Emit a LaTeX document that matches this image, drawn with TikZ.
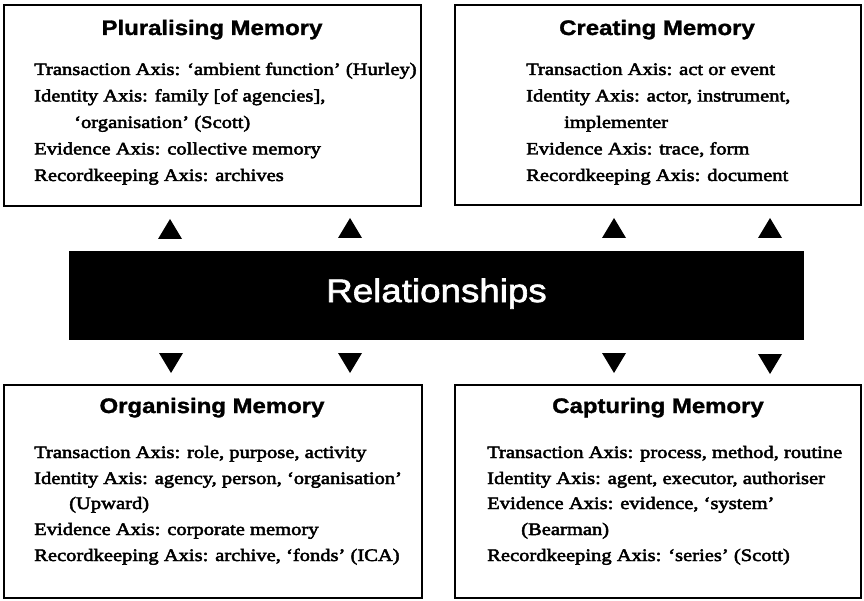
\documentclass[tikz,border=0pt]{standalone}
\usepackage{fontspec}
\newfontfamily\bodyfont{Liberation Serif}[FakeStretch=1.175,FakeBold=2.8]
\newfontfamily\titlefont{Liberation Sans}[FakeStretch=1.14,FakeBold=1.5]
\newfontfamily\barfont{Liberation Sans}[FakeStretch=1.13,FakeBold=2]
\tikzset{
  panel/.style={draw=black, line width=1.8pt, inner sep=0pt, anchor=north west},
  ttl/.style={font=\titlefont\bfseries\fontsize{21}{25}\selectfont, anchor=base, inner sep=0pt},
  ln/.style={font=\bodyfont\fontsize{17.5}{27}\selectfont, anchor=base west, inner sep=0pt},
  bar/.style={fill=black, inner sep=0pt, anchor=north west},
  bartext/.style={font=\barfont\fontsize{32.5}{36}\selectfont, text=white, anchor=base, inner sep=0pt},
  uptri/.pic={\fill[black] (-12,10) -- (12,10) -- (0,-10) -- cycle;},
  downtri/.pic={\fill[black] (-12,-10) -- (12,-10) -- (0,10) -- cycle;}
}
\begin{document}
\begin{tikzpicture}[x=1pt,y=-1pt]
\useasboundingbox (0,0) rectangle (864,601);
% panels
\node[panel, minimum width=417pt, minimum height=201pt] (plur) at (3,4) {};
\node[panel, minimum width=406pt, minimum height=200pt] (crea) at (454,4) {};
\node[panel, minimum width=418pt, minimum height=213pt] (orga) at (3,384) {};
\node[panel, minimum width=406pt, minimum height=213pt] (capt) at (454,384) {};
% central bar
\node[bar, minimum width=735pt, minimum height=89pt] (rel) at (69,251) {};
\node[bartext] (reltext) at (436.5,302) {Relationships};
% triangles
\pic at (170,229) {uptri};
\pic at (350,228) {uptri};
\pic at (614,228) {uptri};
\pic at (770,228) {uptri};
\pic at (171,363) {downtri};
\pic at (350,363) {downtri};
\pic at (614,363) {downtri};
\pic at (770,364) {downtri};
% Pluralising
\node[ttl] (plurT) at (212,35) {Pluralising Memory};
\node[ln] (plur1) at (34,75) {Transaction Axis: ‘ambient function’ (Hurley)};
\node[ln] (plur2) at (34,101.5) {Identity Axis: family [of agencies],};
\node[ln] (plur3) at (74,128) {‘organisation’ (Scott)};
\node[ln] (plur4) at (34,154.5) {Evidence Axis: collective memory};
\node[ln] (plur5) at (34,181) {Recordkeeping Axis: archives};
% Creating
\node[ttl] (creaT) at (657,35) {Creating Memory};
\node[ln] (crea1) at (526,75) {Transaction Axis: act or event};
\node[ln] (crea2) at (526,101.5) {Identity Axis: actor, instrument,};
\node[ln] (crea3) at (564,128) {implementer};
\node[ln] (crea4) at (526,154.5) {Evidence Axis: trace, form};
\node[ln] (crea5) at (526,181) {Recordkeeping Axis: document};
% Organising
\node[ttl] (orgaT) at (212,413) {Organising Memory};
\node[ln] (orga1) at (34,458) {Transaction Axis: role, purpose, activity};
\node[ln] (orga2) at (34,484) {Identity Axis: agency, person, ‘organisation’};
\node[ln] (orga3) at (69,509) {(Upward)};
\node[ln] (orga4) at (34,535) {Evidence Axis: corporate memory};
\node[ln] (orga5) at (34,561) {Recordkeeping Axis: archive, ‘fonds’ (ICA)};
% Capturing
\node[ttl] (captT) at (658,413) {Capturing Memory};
\node[ln] (capt1) at (487,458) {Transaction Axis: process, method, routine};
\node[ln] (capt2) at (487,484) {Identity Axis: agent, executor, authoriser};
\node[ln] (capt3) at (487,509) {Evidence Axis: evidence, ‘system’};
\node[ln] (capt4) at (521,535) {(Bearman)};
\node[ln] (capt5) at (487,561) {Recordkeeping Axis: ‘series’ (Scott)};
\end{tikzpicture}
\end{document}
